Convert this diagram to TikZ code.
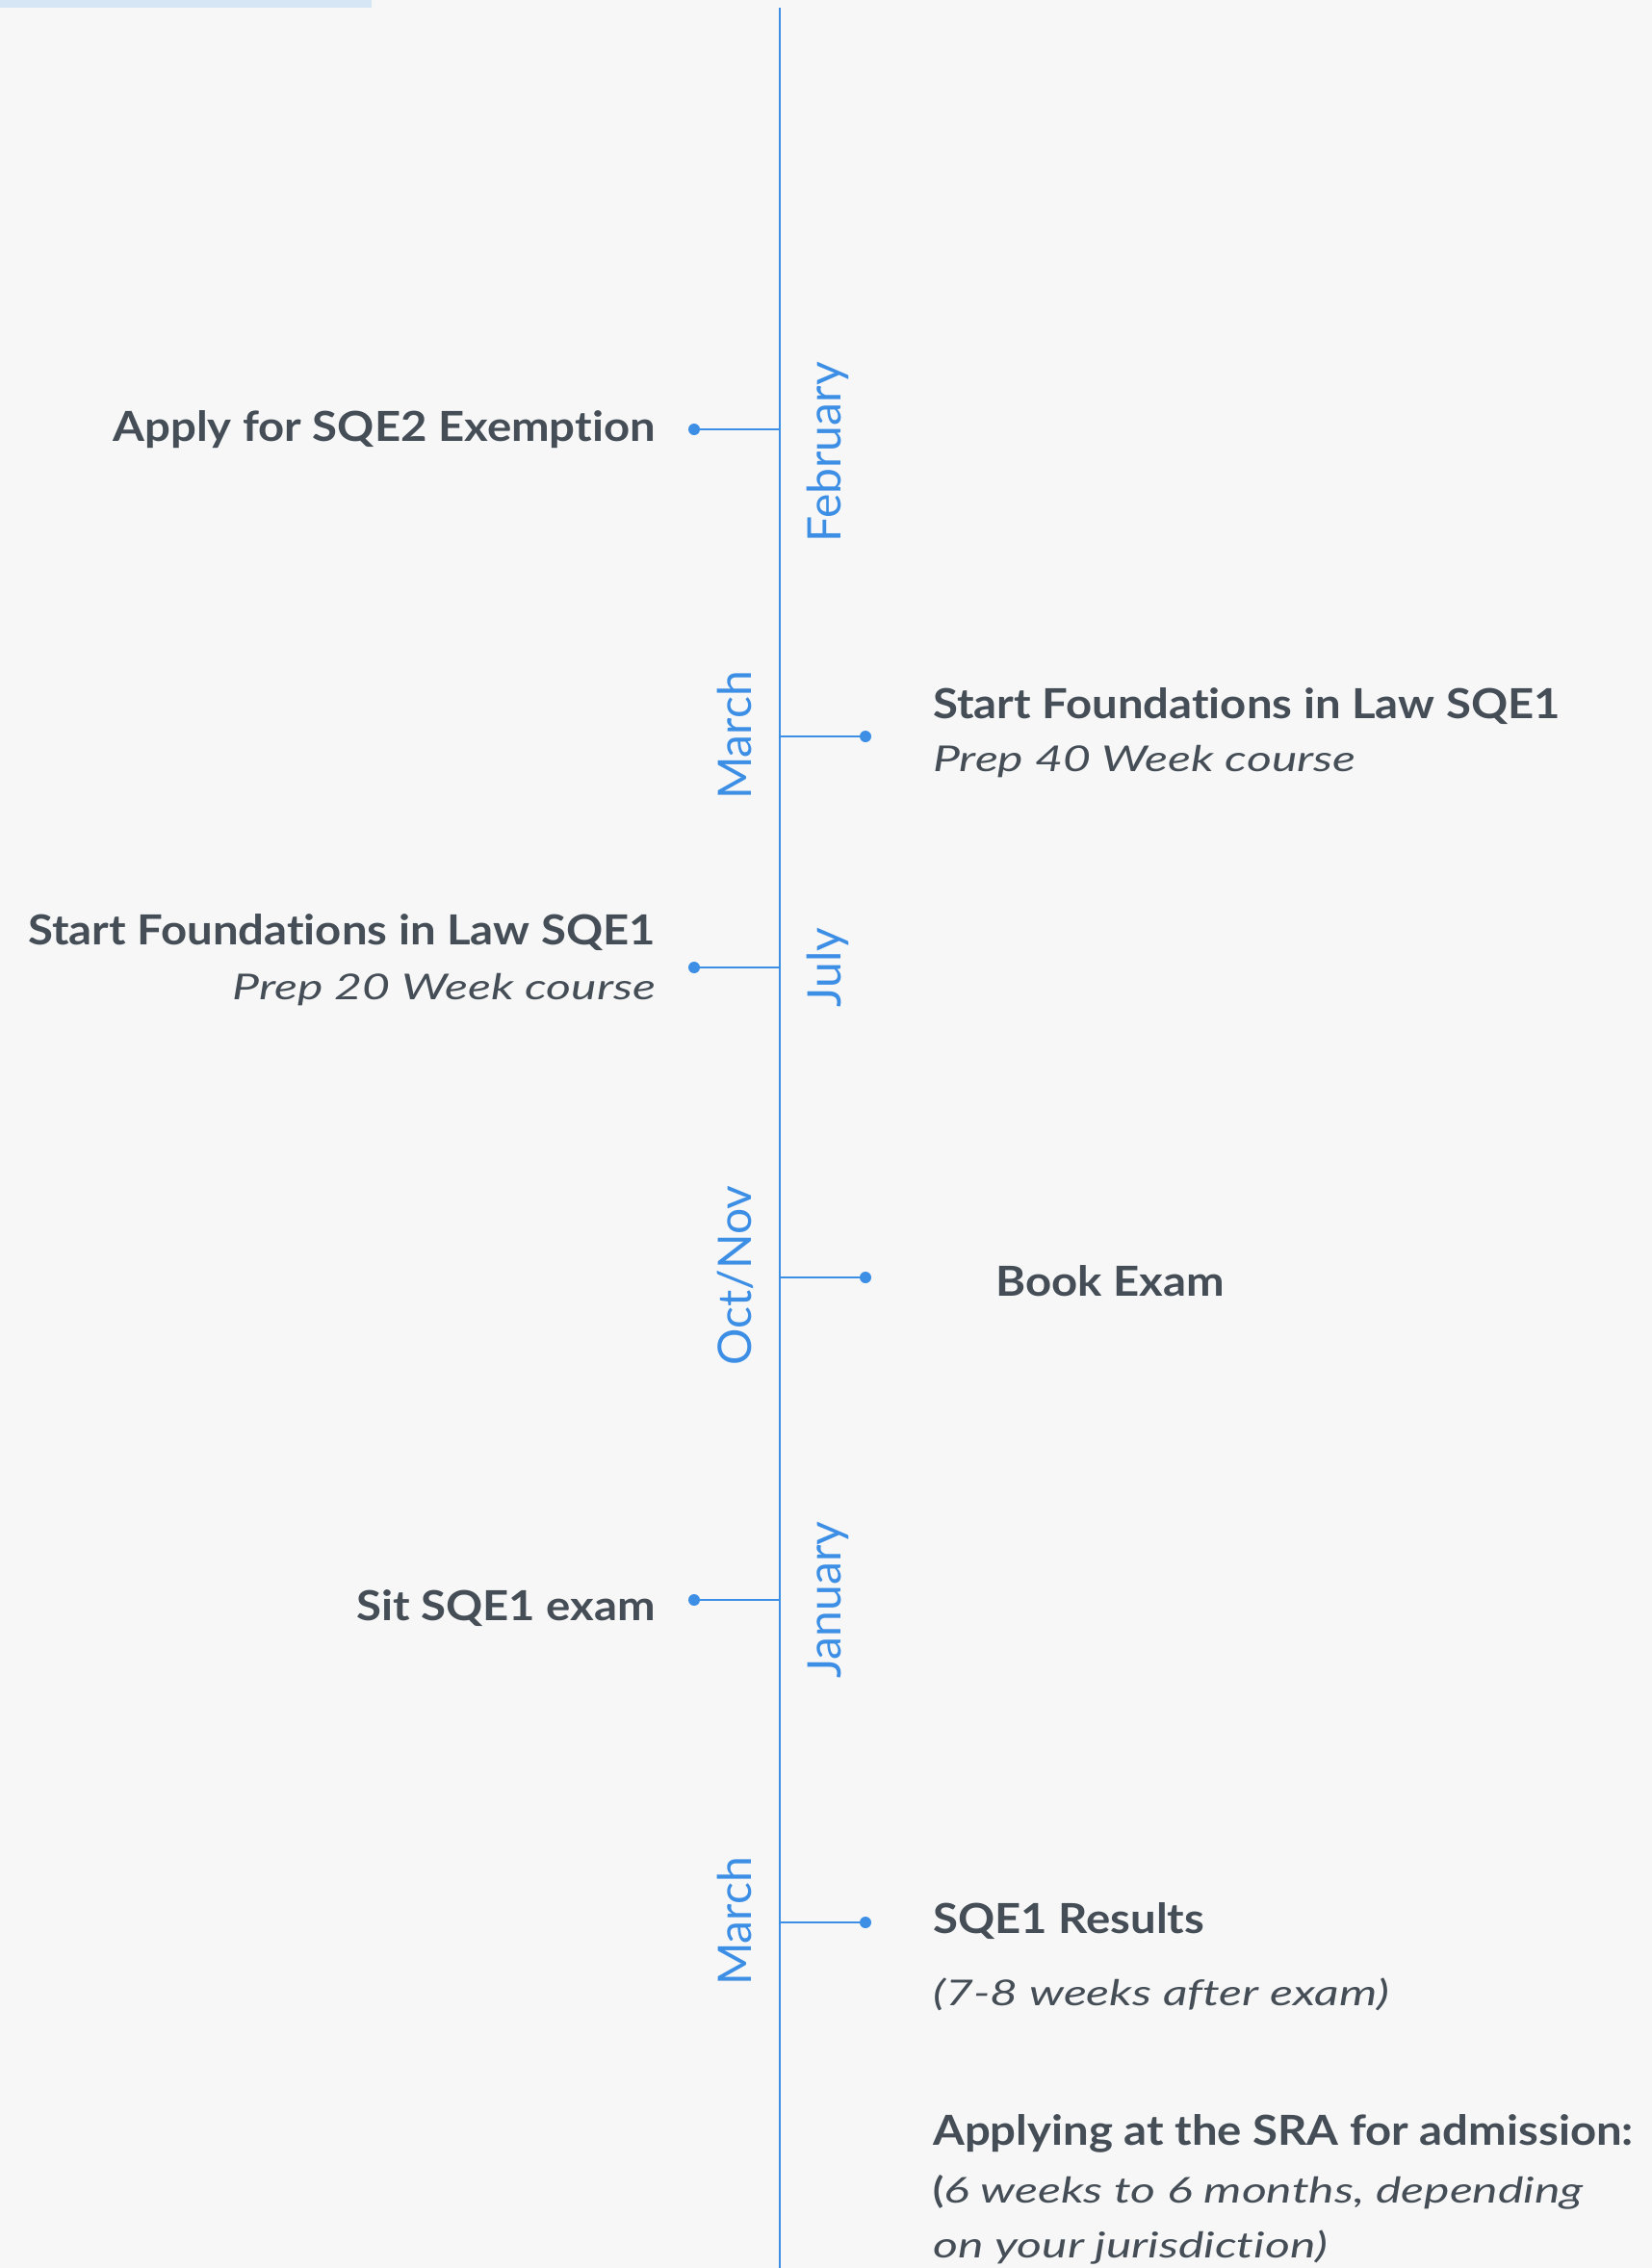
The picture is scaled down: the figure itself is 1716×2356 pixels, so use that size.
\documentclass[tikz,border=0pt]{standalone}
\usepackage{fontspec}
\setmainfont{Lato}[Ligatures=NoCommon]
\newfontfamily\ttlfont{Lato}[FakeStretch=1.1, Ligatures=NoCommon]
\newfontfamily\subfont{Lato}[FakeStretch=1.35, Ligatures=NoCommon]
\newfontfamily\monfont{Lato}[Ligatures=NoCommon]
\definecolor{bg}{HTML}{F7F7F7}
\definecolor{topbar}{HTML}{D6E6F4}
\definecolor{tlblue}{HTML}{3D8FE6}
\definecolor{ink}{HTML}{454E57}
\tikzset{
  spine/.style={draw=tlblue, line width=2.6pt},
  branch/.style={draw=tlblue, line width=2.4pt},
  tdot/.style={circle, fill=tlblue, inner sep=0pt, minimum size=12pt},
  month/.style={text=tlblue, rotate=90, anchor=base, inner sep=0pt, font=\monfont\fontsize{48}{54}\selectfont},
  title/.style={text=ink, inner sep=0pt, font=\ttlfont\fontsize{43}{50}\selectfont\bfseries},
  sub/.style={text=ink, inner sep=0pt, font=\subfont\fontsize{37}{44}\selectfont\itshape},
}
\begin{document}
\begin{tikzpicture}[x=1pt,y=-1pt]
\path[fill=bg] (0,0) rectangle (1716,2356);
\useasboundingbox (0,0) rectangle (1716,2356);
\fill[topbar] (0,0) rectangle (386,8);
% spine
\coordinate (top) at (810,8);
\coordinate (bot) at (810,2356);
\draw[spine] (top) -- (bot);
% branch points on spine
\coordinate (s1) at (810,446);
\coordinate (s2) at (810,765);
\coordinate (s3) at (810,1005);
\coordinate (s4) at (810,1327);
\coordinate (s5) at (810,1662);
\coordinate (s6) at (810,1997);
% dots
\node[tdot] (d1) at (721,446) {};
\node[tdot] (d2) at (899,765) {};
\node[tdot] (d3) at (721,1005) {};
\node[tdot] (d4) at (899,1327) {};
\node[tdot] (d5) at (721,1662) {};
\node[tdot] (d6) at (899,1997) {};
\draw[branch] (s1) -- (d1.center);
\draw[branch] (s2) -- (d2.center);
\draw[branch] (s3) -- (d3.center);
\draw[branch] (s4) -- (d4.center);
\draw[branch] (s5) -- (d5.center);
\draw[branch] (s6) -- (d6.center);
% months
\node[month] (m1) at (873,470) {February};
\node[month] (m2) at (780,764) {March};
\node[month] (m3) at (873,1005) {July};
\node[month] (m4) at (780,1325) {Oct/Nov};
\node[month] (m5) at (873,1662) {January};
\node[month] (m6) at (780,1996) {March};
% events
\node[title, anchor=base east] (e1) at (681,458) {Apply for SQE2 Exemption};
\node[title, anchor=base west] (e2) at (969,746) {Start Foundations in Law SQE1};
\node[sub, anchor=base west] (e2b) at (969,801) {Prep 40 Week course};
\node[title, anchor=base east] (e3) at (681,981) {Start Foundations in Law SQE1};
\node[sub, anchor=base east] (e3b) at (681,1038) {Prep 20 Week course};
\node[title, anchor=base west] (e4) at (1034,1346) {Book Exam};
\node[title, anchor=base east] (e5) at (681,1683) {Sit SQE1 exam};
\node[title, anchor=base west] (e6) at (969,2008) {SQE1 Results};
\node[sub, anchor=base west] (e6b) at (969,2083) {(7-8 weeks after exam)};
\node[title, anchor=base west] (e7) at (969,2228) {Applying at the SRA for admission:};
\node[sub, anchor=base west] (e7b) at (969,2288) {{\ttlfont\upshape\bfseries(}6 weeks to 6 months, depending};
\node[sub, anchor=base west] (e7c) at (969,2345) {on your jurisdiction)};
\end{tikzpicture}
\end{document}
